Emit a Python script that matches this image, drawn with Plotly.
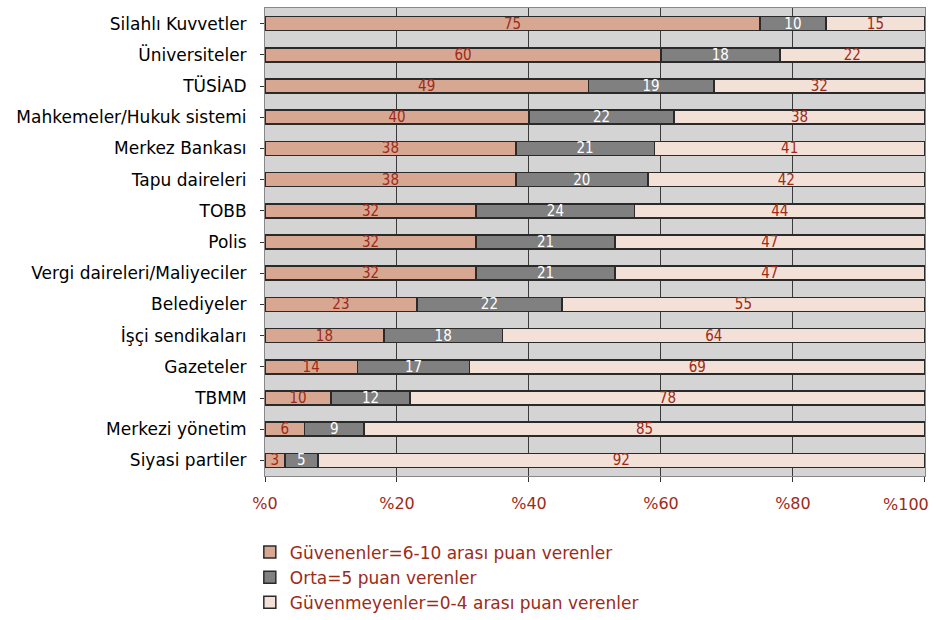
import plotly.graph_objects as go

categories = ["Silahlı Kuvvetler", "Üniversiteler", "TÜSİAD", "Mahkemeler/Hukuk sistemi",
              "Merkez Bankası", "Tapu daireleri", "TOBB", "Polis", "Vergi daireleri/Maliyeciler",
              "Belediyeler", "İşçi sendikaları", "Gazeteler", "TBMM", "Merkezi yönetim", "Siyasi partiler"]
guvenen = [75, 60, 49, 40, 38, 38, 32, 32, 32, 23, 18, 14, 10, 6, 3]
orta = [10, 18, 19, 22, 21, 20, 24, 21, 21, 22, 18, 17, 12, 9, 5]
guvenmeyen = [15, 22, 32, 38, 41, 42, 44, 47, 47, 55, 64, 69, 78, 85, 92]
series_names = ["Güvenenler=6-10 arası puan verenler", "Orta=5 puan verenler",
                "Güvenmeyenler=0-4 arası puan verenler"]
tick_vals = [0, 20, 40, 60, 80, 100]
tick_text = ["%0", "%20", "%40", "%60", "%80", "%100"]

red = "#9e2a17"
colors = ["#d8a792", "#808080", "#f3e1d7"]
text_colors = [red, "white", red]

fig = go.Figure()
for name, vals, c, tc in zip(series_names, [guvenen, orta, guvenmeyen], colors, text_colors):
    fig.add_trace(go.Bar(
        y=categories, x=vals, name=name, orientation="h",
        marker=dict(color=c, line=dict(color="#2a2a2a", width=1.5)),
        text=vals, textposition="inside", insidetextanchor="middle", textangle=0,
        textfont=dict(color=tc, size=15, family="DejaVu Sans Condensed"),
        width=0.45, hoverinfo="skip",
    ))

# last tick label drawn right-aligned at the axis end (as in the reference)
shown_text = tick_text[:-1] + [""]
fig.add_annotation(x=tick_vals[-1], y=0, xref="x", yref="paper", yanchor="top",
                   xanchor="right", xshift=6, yshift=-17, showarrow=False,
                   text=tick_text[-1], font=dict(color=red, size=16))

fig.update_layout(
    barmode="stack",
    width=936, height=620,
    margin=dict(l=265, r=11, t=8, b=144, autoexpand=False),
    plot_bgcolor="#d4d4d4", paper_bgcolor="white",
    font=dict(family="DejaVu Sans", size=16, color="black"),
    xaxis=dict(range=[0, 100.01], tickvals=tick_vals, ticktext=shown_text,
               tickfont=dict(color=red, size=16), showgrid=True, gridcolor="#3a3a3a",
               gridwidth=1, zeroline=False, showline=True, linecolor="#888", mirror=True,
               ticks="outside", ticklen=5, tickcolor="#333", automargin=False,
               ticklabelstandoff=8),
    yaxis=dict(autorange="reversed", tickfont=dict(size=17, color="black"),
               showline=True, linecolor="#888", mirror=True, ticks="outside",
               ticklen=4, tickcolor="#333", automargin=False, ticklabelstandoff=10),
    legend=dict(orientation="v", x=-0.023, xanchor="left", y=-0.125, yanchor="top",
                traceorder="normal", font=dict(color=red, size=17), itemwidth=30,
                tracegroupgap=0),
    showlegend=True,
    uniformtext=dict(minsize=8, mode="show"),
)
fig.write_html("out.html", config={"displayModeBar": False},
               post_script="document.body.style.margin='0px';")
